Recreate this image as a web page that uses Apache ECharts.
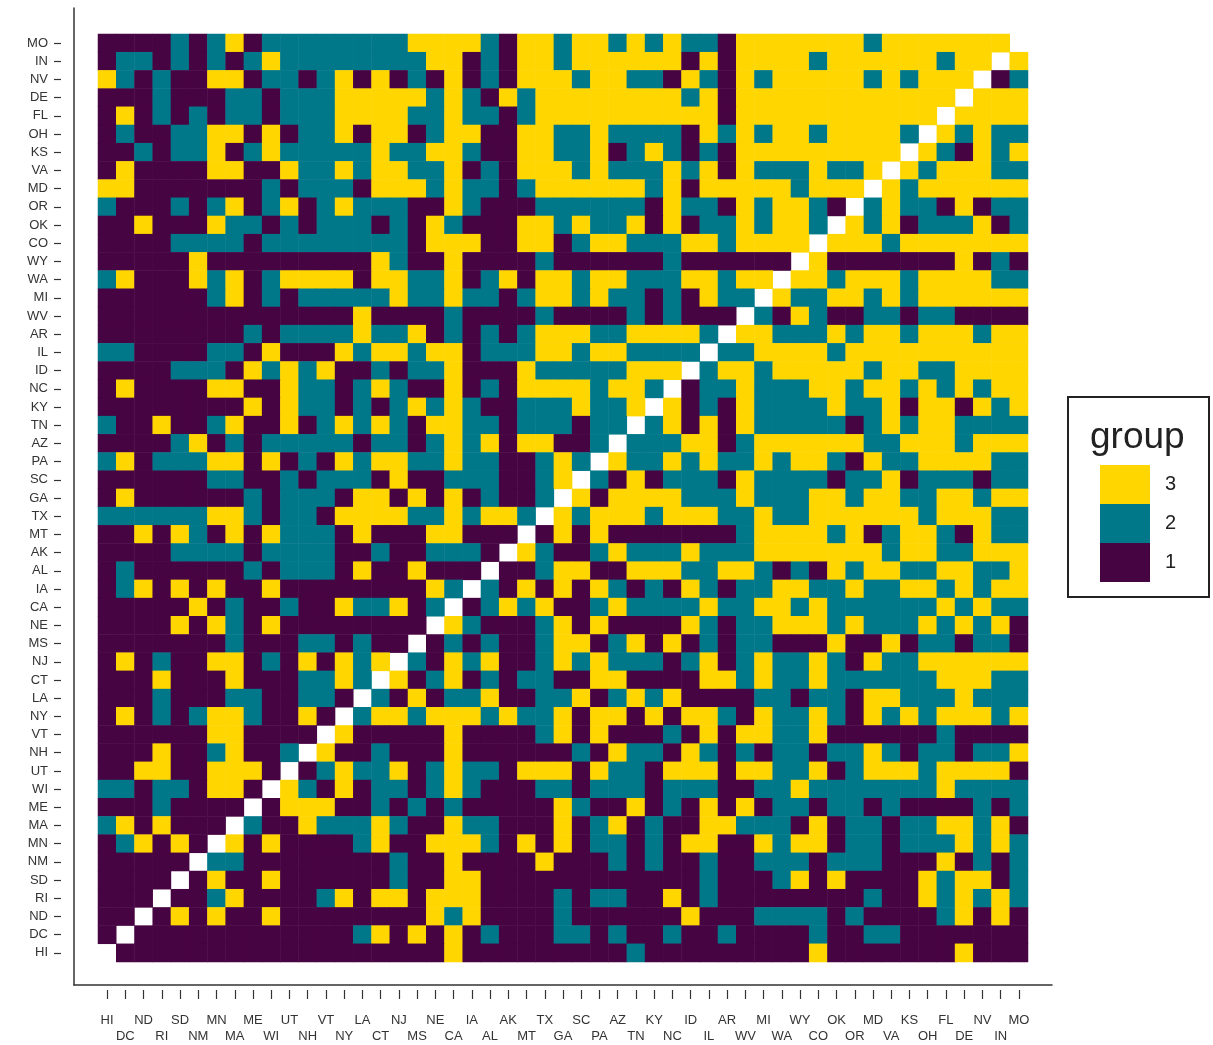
<!DOCTYPE html>
<html>
<head>
<meta charset="utf-8">
<script src="https://cdn.jsdelivr.net/npm/echarts@6/dist/echarts.min.js"></script>
<style>
  html, body { margin: 0; padding: 0; background: #fff; }
  #chart { width: 1213px; height: 1045px; }
</style>
</head>
<body>
<div id="chart"></div>
<script>
// states, same order on both axes (x: left -> right, y: bottom -> top)
const states = ['HI', 'DC', 'ND', 'RI', 'SD', 'NM', 'MN', 'MA', 'ME', 'WI', 'UT', 'NH', 'VT',
    'NY', 'LA', 'CT', 'NJ', 'MS', 'NE', 'CA', 'IA', 'AL', 'AK', 'MT', 'TX', 'GA', 'SC', 'PA',
    'AZ', 'TN', 'KY', 'NC', 'ID', 'IL', 'AR', 'WV', 'MI', 'WA', 'WY', 'CO', 'OK', 'OR', 'MD',
    'VA', 'KS', 'OH', 'FL', 'DE', 'NV', 'IN', 'MO'];

// group per cell, one string per row from the top (MO) down to HI, columns HI..MO
// 1 / 2 / 3 = group, 0 = diagonal (empty)
const groupRows = [
    '11112123122222222' + '33332133233232322' + '13333333233333330', // MO
    '12212121232222222' + '23312133233333313' + '13333233333323303', // IN
    '32121133122123131' + '21312133323322132' + '13233333232333012', // NV
    '11121112212223333' + '32321323333333323' + '13333333333330333', // DE
    '13121212212223333' + '22322123333333333' + '13333333333303333', // FL
    '12112233131223133' + '12331133223222213' + '23233233332032322', // OH
    '11212231232222232' + '23321133223123212' + '13333333330321323', // KS
    '13111133113223233' + '22312133323222323' + '13222322303233322', // VA
    '33111111121222133' + '32322123333332313' + '33332333032333333', // MD
    '21112123123123222' + '11321112222221322' + '13233210232213122', // OR
    '11311132212122212' + '13211133232231312' + '23233203231222312', // OK
    '11112222122222222' + '13331133123322233' + '23333033323333333', // CO
    '11111311111111132' + '11311112111111211' + '11110311111113121', // WY
    '23111323123333133' + '22312313323322233' + '23303323332333322', // WA
    '11111123121222223' + '22322123323221213' + '22032233232333333', // MI
    '11111111111111311' + '11211112111121211' + '10213211221221111', // WV
    '11111111212222322' + '31212123332233332' + '03322232332333233', // AR
    '22111122131113233' + '23312223323322220' + '22333323333333333', // IL
    '11112221323231121' + '22311132222233302' + '33233333233223333', // ID
    '13111133113221232' + '11312133332332012' + '23222332332323233', // NC
    '11111111313221212' + '32321122232230312' + '13222232231331323', // KY
    '21131123113123232' + '13322122212202313' + '13222221232332222', // TN
    '11112312122222122' + '12323133112022233' + '12333333223332333', // AZ
    '23122233131213233' + '22322112320322323' + '22323321322333322', // PA
    '11111122112122213' + '11222112302131222' + '13222212231222122', // SC
    '13111111212221331' + '31312112031333322' + '23222332332233233', // GA
    '22222233212213333' + '22323320323332333' + '22322333333233322', // TX
    '11313213132221311' + '13311101313111111' + '12333323123321322', // MT
    '11112222122221121' + '12221032112322232' + '22333333323322333', // AK
    '12111111212221311' + '31110112331133322' + '33212132332233223', // AL
    '12313131131111111' + '13202131313212132' + '12233223223323233', // IA
    '11111312112113223' + '12012323112322223' + '22332322222232322', // CA
    '11113132131111111' + '10321112313111132' + '12233323222323231', // NE
    '11111112111221211' + '01212112331231312' + '12211131131221221', // MS
    '13121133121313230' + '21323112323222123' + '12322321322333333', // NJ
    '11131113111223203' + '12312122113311113' + '32322322222233322', // CT
    '11121112211221021' + '31223112231232311' + '11221221332223222', // LA
    '13121233211310233' + '23332322313313133' + '21322321323233323', // NY
    '11111133111103111' + '11311112313111213' + '13322311111121111', // VT
    '11131123112031121' + '11311111121322132' + '12122122321221223', // NH
    '11331133310123223' + '12322133313221333' + '13322312333233331', // UT
    '22122133103213122' + '12321112212221222' + '11223222222232222', // WI
    '11121111013331121' + '21211111321131213' + '13122122121111212', // ME
    '23131110211322232' + '11322111312312113' + '32221312212233231', // MA
    '12313103131111231' + '13332131312212133' + '11323312212223232', // MN
    '11111022111111112' + '11311113111212112' + '11222122211131212', // NM
    '11110131131111112' + '11331111111111112' + '11123131111323312', // SD
    '11101123111123133' + '13331111212211312' + '11111111211323232', // RI
    '11013131131111111' + '13231111211111131' + '11222212111123131', // ND
    '10111111111111231' + '31312111221211211' + '21111211221111111', // DC
    '01111111111111111' + '11311111111121111' + '11111311111113111'  // HI
];

const groupColors = { 1: '#470442', 2: '#00788A', 3: '#FFD600' };

// [x, y, group]
const cells = [];
groupRows.forEach((row, r) => {
    const yName = states[states.length - 1 - r];
    for (let c = 0; c < row.length; c++) {
        const g = Number(row[c]);
        if (g > 0) {
            cells.push([states[c], yName, g]);
        }
    }
});

const chart = echarts.init(document.getElementById('chart'));

const labelFont = {
    fontFamily: 'Liberation Sans, Arial, sans-serif',
    fontSize: 13,
    color: '#333',
};

chart.setOption({
    animation: false,
    textStyle: { fontFamily: 'Liberation Sans, Arial, sans-serif' },
    title: {
        text: 'group',
        left: 1085,
        top: 414,
        textStyle: { fontSize: 37, fontWeight: 'normal', color: '#222' },
    },
    grid: [
        { left: 98, right: 185, top: 34, bottom: 83 },
        // outer frame for the axis lines
        { left: 74, right: 161, top: 8, bottom: 60 },
    ],
    xAxis: [
        {
            type: 'category',
            data: states,
            gridIndex: 0,
            offset: 28,
            axisLine: { show: false },
            axisTick: { show: true, alignWithLabel: true, length: 9, lineStyle: { color: '#333', width: 1.2 } },
            axisLabel: {
                ...labelFont,
                interval: 0,
                margin: 22,
                lineHeight: 16,
                formatter: (v, i) => (i % 2 ? '\n' + v : v),
            },
            splitLine: { show: false },
        },
        {
            type: 'value',
            gridIndex: 1,
            min: 0,
            max: 1,
            axisLine: { show: true, onZero: false, lineStyle: { color: '#333', width: 1.5 } },
            axisTick: { show: false },
            axisLabel: { show: false },
            splitLine: { show: false },
        },
    ],
    yAxis: [
        {
            type: 'category',
            data: states,
            gridIndex: 0,
            offset: 37,
            axisLine: { show: false },
            axisTick: { show: true, alignWithLabel: true, length: 7, lineStyle: { color: '#333', width: 1.2 } },
            axisLabel: { ...labelFont, interval: 0, margin: 13 },
            splitLine: { show: false },
        },
        {
            type: 'value',
            gridIndex: 1,
            min: 0,
            max: 1,
            axisLine: { show: true, onZero: false, lineStyle: { color: '#333', width: 1.5 } },
            axisTick: { show: false },
            axisLabel: { show: false },
            splitLine: { show: false },
        },
    ],
    visualMap: {
        type: 'piecewise',
        dimension: 2,
        seriesIndex: 0,
        left: 1085,
        top: 450,
        align: 'left',
        itemWidth: 50,
        itemHeight: 39,
        itemGap: 0,
        itemSymbol: 'rect',
        textGap: 15,
        selectedMode: false,
        hoverLink: false,
        textStyle: { fontSize: 20, color: '#222' },
        pieces: [
            { value: 1, label: '1', color: groupColors[1] },
            { value: 2, label: '2', color: groupColors[2] },
            { value: 3, label: '3', color: groupColors[3] },
        ],
    },
    graphic: [
        {
            type: 'rect',
            shape: { x: 1068, y: 397, width: 141, height: 200 },
            style: { fill: 'none', stroke: '#222', lineWidth: 2 },
        },
    ],
    series: [
        {
            type: 'heatmap',
            xAxisIndex: 0,
            yAxisIndex: 0,
            data: cells,
            itemStyle: { borderWidth: 0 },
            emphasis: { disabled: true },
        },
    ],
});
</script>
</body>
</html>
